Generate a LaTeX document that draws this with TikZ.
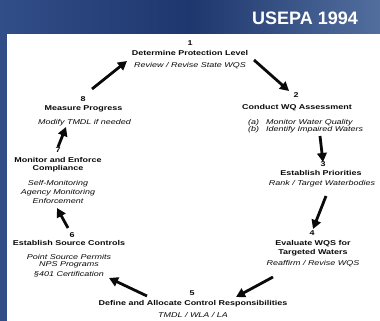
\documentclass[tikz,border=0pt]{standalone}
\usepackage{fontspec}
\setmainfont{Liberation Sans}
\newfontfamily\widefont[FakeStretch=1.28]{Liberation Sans}
\usetikzlibrary{arrows.meta}
\definecolor{bandL}{RGB}{50,78,136}
\definecolor{bandM}{RGB}{30,55,110}
\definecolor{bandR}{RGB}{82,110,157}
\definecolor{ink}{RGB}{10,10,10}
\begin{document}
\begin{tikzpicture}[x=1pt,y=-1pt,
  lbl/.style={anchor=base,inner sep=0pt,text=ink,font=\widefont\fontsize{7}{8}\selectfont},
  ttl/.style={lbl,font=\widefont\bfseries\fontsize{7}{8}\selectfont},
  sub/.style={lbl,font=\widefont\itshape\fontsize{7}{8}\selectfont},
  flow/.style={line width=2.8pt,draw=ink,-{Triangle[length=9pt,width=9.5pt]}}]
\useasboundingbox (0,0) rectangle (380,321);
\shade[left color=bandL,right color=bandR,middle color=bandM] (0,0) rectangle (380,321);
\fill[white] (7,34) rectangle (380,321);
\node[anchor=base,inner sep=0pt,text=white,font=\bfseries\fontsize{18}{19}\selectfont] (hdr) at (305,24.5) {USEPA 1994};
% step 1
\node[ttl] (n1) at (190,45.5) {1};
\node[ttl] (t1) at (190,55.5) {Determine Protection Level};
\node[sub] (s1) at (190,67.5) {Review / Revise State WQS};
% step 2
\node[ttl] (n2) at (296,97.5) {2};
\node[ttl] (t2) at (297,109) {Conduct WQ Assessment};
\node[sub,anchor=base west] (s2a) at (248,124) {\makebox[18pt][l]{(a)}Monitor Water Quality};
\node[sub,anchor=base west] (s2b) at (248,131.5) {\makebox[18pt][l]{(b)}Identify Impaired Waters};
% step 3
\node[ttl] (n3) at (323,166.5) {3};
\node[ttl] (t3) at (321,175.5) {Establish Priorities};
\node[sub] (s3) at (322,185) {Rank / Target Waterbodies};
% step 4
\node[ttl] (n4) at (312,235.5) {4};
\node[ttl] (t4a) at (313,245.5) {Evaluate WQS for};
\node[ttl] (t4b) at (313,254.5) {Targeted Waters};
\node[sub] (s4) at (313,265.5) {Reaffirm / Revise WQS};
% step 5
\node[ttl] (n5) at (192,295.5) {5};
\node[ttl] (t5) at (193,305.5) {Define and Allocate Control Responsibilities};
\node[sub] (s5) at (193,317.5) {TMDL / WLA / LA};
% step 6
\node[ttl] (n6) at (72,237.5) {6};
\node[ttl] (t6) at (69,245.5) {Establish Source Controls};
\node[sub] (s6a) at (69,259.5) {Point Source Permits};
\node[sub] (s6b) at (69,266.5) {NPS Programs};
\node[sub] (s6c) at (69,276.5) {§401 Certification};
% step 7
\node[ttl] (n7) at (58,152.5) {7};
\node[ttl] (t7a) at (58,162.5) {Monitor and Enforce};
\node[ttl] (t7b) at (58,170.5) {Compliance};
\node[sub] (s7a) at (58,185.5) {Self-Monitoring};
\node[sub] (s7b) at (58,194.5) {Agency Monitoring};
\node[sub] (s7c) at (58,203.5) {Enforcement};
% step 8
\node[ttl] (n8) at (83,101.5) {8};
\node[ttl] (t8) at (83.5,110.5) {Measure Progress};
\node[sub] (s8) at (84.5,124.5) {Modify TMDL if needed};
% arrow end points
\coordinate (a81) at (92,89);   \coordinate (b81) at (127,61);
\coordinate (a12) at (254,60);  \coordinate (b12) at (289,91);
\coordinate (a23) at (320,136); \coordinate (b23) at (323,162);
\coordinate (a34) at (326,196); \coordinate (b34) at (313,229);
\coordinate (a45) at (273,277); \coordinate (b45) at (236,297);
\coordinate (a56) at (147,296); \coordinate (b56) at (109,278);
\coordinate (a67) at (68,228);  \coordinate (b67) at (57,208);
\coordinate (a78) at (58,147);  \coordinate (b78) at (66,127);
\draw[flow] (a81) -- (b81);
\draw[flow] (a12) -- (b12);
\draw[flow] (a23) -- (b23);
\draw[flow] (a34) -- (b34);
\draw[flow] (a45) -- (b45);
\draw[flow] (a56) -- (b56);
\draw[flow] (a67) -- (b67);
\draw[flow] (a78) -- (b78);
\end{tikzpicture}
\end{document}
